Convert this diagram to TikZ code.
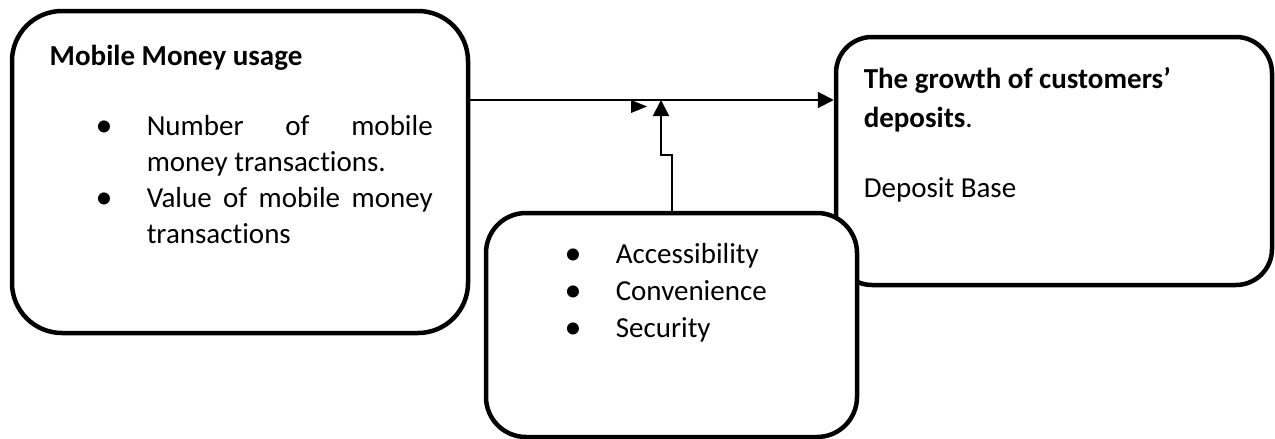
\documentclass[tikz,border=0pt]{standalone}
\usepackage{fontspec}
\setmainfont{Carlito}[Ligatures=NoCommon]
\usetikzlibrary{arrows.meta}

\tikzset{every picture/.style={line width=0.75pt}}
\tikzset{
  box/.style={draw, line width=2.25pt, rounded corners=#1, fill=white, inner sep=0pt},
  flow/.style={line width=1pt, -{Triangle[length=8pt,width=8pt]}},
  txt/.style={anchor=base west, inner sep=0pt, font=\fontsize{14.5}{18}\selectfont},
  dot/.style={anchor=base, inner sep=0pt, font=\fontsize{17}{18}\selectfont},
}

\begin{document}
\begin{tikzpicture}[x=0.5pt,y=0.5pt,yscale=-1]
\useasboundingbox (0,0) rectangle (1275,439);

%Rounded Rect
\node[box=25pt, minimum width=228pt, minimum height=161pt] (usage) at (240,172) {};
%Rounded Rect
\node[box=18pt, minimum width=218pt, minimum height=124pt] (deposit) at (1054,161) {};
%Rounded Rect
\node[box=20pt, minimum width=185.5pt, minimum height=112pt] (factors) at (671.5,325) {};

% Text Node
\node[txt, font=\fontsize{14.5}{18}\selectfont\bfseries] (usagehead) at (49,65) {Mobile Money usage};
% Text Node
\node[dot] (dotnumber) at (104,136) {\textbullet};
\node[txt, text width=143pt, align=justify] (number) at (146,135) {Number of mobile\linebreak money transactions.};
% Text Node
\node[dot] (dotvalue) at (104,208) {\textbullet};
\node[txt, text width=143pt, align=justify] (value) at (146,207) {Value of mobile money\linebreak transactions};

% Text Node
\node[txt, font=\fontsize{14.5}{18}\selectfont\bfseries] (deposithead) at (863,88) {The growth of customers’};
\node[txt] (deposithead2) at (863,127) {\textbf{deposits}.};
% Text Node
\node[txt] (depositbase) at (863,197) {Deposit Base};

% Text Node
\node[dot] (dotaccess) at (573,264) {\textbullet};
\node[txt] (access) at (615,263) {Accessibility};
\node[dot] (dotconv) at (573,301) {\textbullet};
\node[txt] (conv) at (615,300) {Convenience};
\node[dot] (dotsec) at (573,338) {\textbullet};
\node[txt] (sec) at (615,337) {Security};

%Straight Lines
\coordinate (join) at (661,100);
\coordinate (kink) at (661,155);
\draw[flow] (usage.east |- join) -- (deposit.west |- join);
\fill (631,100) -- (647,106.5) -- (631,113) -- cycle;
%Straight Lines
\draw[flow] (factors.north) |- (kink) -- (join);
\end{tikzpicture}
\end{document}
